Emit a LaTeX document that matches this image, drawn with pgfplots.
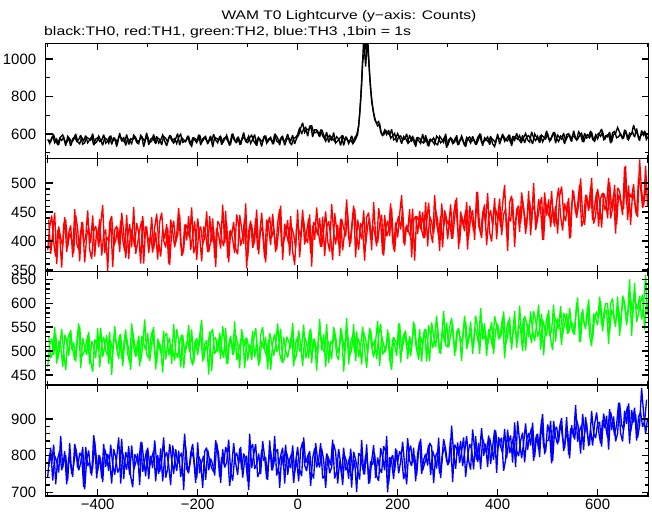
\documentclass[border=0pt]{standalone}
\usepackage{fontspec}
\setmainfont{Liberation Sans}
\usepackage{pgfplots}
\usepackage{pgfplotstable}
\pgfplotsset{compat=1.18}
\definecolor{pred}{RGB}{255,0,0}
\definecolor{pgreen}{RGB}{0,255,0}
\definecolor{pblue}{RGB}{0,0,255}
% bins at -500,-496,...
\pgfplotstableread{
t k r g b
-500 572 384 467 742
-496 550 425 514 806
-492 579 444 526 778
-488 595 397 492 830
-484 562 373 536 722
-480 545 419 482 792
-476 577 409 506 814
-472 566 354 546 760
-468 583 429 498 788
-464 537 437 460 802
-460 588 390 524 732
-456 575 414 539 834
-452 556 402 503 750
-448 571 379 518 776
-444 601 445 478 820
-440 559 421 528 766
-436 548 365 552 808
-432 582 433 488 798
-428 564 396 496 714
-424 592 407 510 824
-420 553 453 533 772
-416 569 385 472 782
-412 586 369 521 746
-408 541 417 508 856
-404 574 426 485 812
-400 580 403 548 758
-396 560 438 466 800
-392 567 375 515 738
-388 597 411 530 832
-384 551 420 500 770
-380 563 348 491 804
-376 589 432 540 786
-372 544 443 450 724
-368 578 391 527 818
-364 570 401 520 796
-360 555 423 504 754
-356 605 381 534 768
-352 561 449 484 846
-348 584 415 512 736
-344 539 371 545 810
-340 576 408 494 792
-336 565 429 476 748
-332 549 389 558 828
-328 594 459 509 762
-324 581 378 488 780
-320 558 397 522 806
-316 568 419 468 720
-312 590 435 532 838
-308 532 361 516 790
-304 573 425 502 744
-300 585 407 538 822
-296 554 395 479 774
-292 562 441 514 794
-288 598 386 550 814
-284 547 415 461 730
-280 579 368 526 802
-276 572 433 506 756
-272 542 449 492 784
-268 587 401 542 850
-264 577 389 482 740
-260 557 423 515 764
-256 593 359 528 832
-252 566 416 473 788
-248 552 435 556 750
-244 575 397 497 818
-240 603 411 486 778
-236 540 446 518 798
-232 582 374 534 808
-228 569 385 464 706
-224 559 429 510 826
-220 591 419 524 760
-216 550 405 498 772
-212 535 458 545 812
-208 580 379 474 792
-204 574 392 521 726
-200 564 439 492 836
-196 596 409 532 752
-192 556 365 565 782
-188 571 425 482 800
-184 586 413 510 734
-180 546 381 502 816
-176 578 443 541 786
-172 561 398 458 766
-168 599 421 522 756
-164 568 355 529 842
-160 553 434 498 810
-156 588 428 538 742
-152 543 403 505 796
-148 576 391 486 776
-144 583 452 548 824
-140 565 371 472 804
-136 538 417 524 718
-132 592 410 514 770
-128 573 433 493 834
-124 557 387 534 780
-120 585 377 517 748
-116 549 445 464 820
-112 570 422 546 762
-108 608 395 506 806
-104 560 465 528 790
-100 554 370 480 730
-96 581 417 514 860
-92 594 429 481 766
-88 563 395 524 802
-84 547 439 548 832
-80 577 385 499 742
-76 571 409 474 756
-72 534 449 521 816
-68 584 401 505 786
-64 589 363 530 796
-60 558 427 462 734
-56 574 442 538 842
-52 566 406 518 760
-48 551 421 490 776
-44 595 381 512 810
-40 579 431 558 818
-36 541 455 495 712
-32 587 391 478 800
-28 562 399 529 770
-24 569 413 502 830
-20 600 436 486 748
-16 555 375 510 790
-12 544 424 535 806
-8 576 411 468 726
-4 582 388 517 784
0 597 454 529 824
4 634 372 499 762
8 600 421 509 744
12 628 436 555 850
16 636 406 485 780
20 588 397 503 798
24 642 446 543 812
28 645 356 475 752
32 606 433 526 738
36 607 426 514 834
40 617 410 491 788
44 584 440 567 768
48 624 390 501 820
52 597 418 535 788
56 562 451 467 712
60 582 400 523 798
64 593 382 507 752
68 563 464 483 768
72 608 415 550 832
76 552 394 531 810
80 564 428 496 724
84 577 374 511 786
88 588 438 544 748
92 539 422 457 822
96 581 408 519 760
100 568 449 537 771
104 560 390 490 797
108 591 425 502 713
112 554 461 556 811
116 573 372 479 789
120 598 437 527 761
124 700 417 517 735
128 865 403 472 843
132 1110 453 539 749
136 960 393 525 803
140 1120 426 495 775
144 910 439 549 725
148 775 384 508 785
152 712 467 487 829
156 668 408 521 739
160 643 397 563 795
164 654 429 469 765
168 596 445 532 753
172 595 375 513 826
176 619 421 497 812
180 607 435 545 700
184 594 409 484 796
188 625 456 461 784
192 569 385 529 736
196 575 432 520 820
200 603 406 510 782
204 580 446 558 812
208 549 479 498 800
212 587 396 520 736
216 577 424 543 758
220 554 416 483 848
224 594 455 531 786
228 563 372 506 772
232 577 436 562 822
236 532 443 516 730
240 581 412 494 806
244 577 452 546 838
248 560 419 478 750
252 552 405 536 789
256 593 467 546 805
260 539 391 520 773
264 570 443 479 835
268 565 433 560 825
272 580 412 532 725
276 550 453 508 799
280 543 436 550 811
284 588 383 496 751
288 573 465 527 783
292 555 425 584 845
296 602 447 512 819
300 537 403 509 774
304 568 437 550 786
308 576 404 569 882
312 554 447 522 806
316 583 471 498 764
320 547 422 544 836
324 563 397 534 780
328 590 444 479 812
332 558 428 554 850
336 532 453 562 742
340 575 385 515 796
344 585 461 539 832
348 561 441 527 818
352 571 417 508 763
356 544 439 574 853
360 581 485 550 783
364 597 422 494 813
368 554 405 562 875
372 559 456 525 799
376 569 429 536 833
380 584 483 512 769
384 543 415 536 849
388 576 399 561 819
392 567 447 494 789
396 552 456 543 869
400 601 438 557 817
404 546 473 527 837
408 579 410 537 849
412 589 446 583 759
416 569 455 513 789
420 563 383 531 871
424 596 467 571 807
428 536 478 503 827
432 587 426 554 853
436 582 436 542 769
440 572 458 519 895
444 592 416 595 839
448 558 484 529 793
452 581 456 569 834
456 603 412 501 888
460 569 449 557 816
464 557 470 541 856
468 612 430 517 876
472 579 500 584 786
476 565 419 565 846
480 588 438 530 860
484 552 460 545 796
488 594 476 578 898
492 584 402 491 826
496 574 466 553 810
500 602 452 578 885
504 563 440 531 861
508 586 486 543 779
512 610 431 597 895
516 551 460 520 851
520 594 413 568 831
524 581 478 558 877
528 572 494 513 903
532 605 446 580 813
536 565 434 566 845
540 587 468 536 867
544 596 404 590 793
548 559 461 549 883
552 618 486 536 850
556 579 448 570 938
560 572 462 612 838
564 593 497 518 868
568 604 425 581 884
572 557 436 562 816
576 588 480 546 906
580 597 470 594 854
584 580 456 533 830
588 611 509 510 922
592 564 430 578 862
596 595 443 569 848
600 574 490 554 888
604 605 467 614 891
608 627 423 554 825
612 572 483 576 915
616 590 471 599 881
620 585 439 599 849
624 611 501 538 927
628 556 456 587 871
632 598 479 574 907
636 603 413 551 839
640 635 492 614 861
644 609 486 532 945
648 587 461 581 885
652 579 456 612 871
656 621 530 582 909
660 570 436 573 935
664 605 482 650 833
668 598 475 532 925
672 648 498 609 891
676 611 452 602 913
680 600 442 586 849
684 565 541 616 883
688 619 487 566 985
692 593 460 594 917
696 607 530 660 859
700 575 460 576 903
}\binsA
% bins at -498,-494,...
\pgfplotstableread{
t k r g b
-498 568 437 532 770
-494 560 378 485 822
-490 591 413 497 732
-486 554 449 551 800
-482 573 360 474 784
-478 542 425 522 754
-474 585 405 512 854
-470 596 391 467 766
-466 564 441 534 812
-462 556 381 520 722
-458 579 414 490 796
-454 536 427 544 774
-450 574 372 503 742
-446 587 455 482 832
-442 561 396 516 806
-438 571 385 558 760
-434 594 417 464 780
-430 546 433 527 824
-426 553 363 508 708
-422 583 409 492 790
-418 576 423 540 814
-414 567 397 479 752
-410 602 444 456 768
-406 549 373 524 840
-402 558 420 515 738
-398 589 389 500 802
-394 569 429 548 788
-390 540 462 488 728
-386 580 379 510 818
-382 572 407 533 798
-378 551 399 473 758
-374 592 438 521 830
-370 562 355 496 776
-366 577 419 552 748
-362 533 426 506 794
-358 586 395 484 850
-354 582 435 536 724
-350 565 402 468 808
-346 557 383 518 782
-342 598 445 528 762
-338 544 369 502 826
-334 575 421 461 744
-330 570 411 542 714
-326 585 390 514 804
-322 555 431 490 792
-318 548 414 532 772
-314 593 361 478 836
-310 578 443 509 756
-306 560 403 566 786
-302 607 425 494 816
-298 542 379 485 736
-294 573 413 526 800
-290 581 380 545 766
-286 559 423 498 842
-282 588 447 474 780
-278 552 398 520 750
-274 568 373 510 820
-270 595 420 455 730
-266 563 404 530 796
-262 537 429 538 810
-258 580 361 491 774
-254 590 437 515 720
-250 566 417 503 828
-246 576 389 480 790
-242 549 411 546 758
-238 583 457 522 814
-234 599 394 466 742
-230 556 377 534 784
-226 561 428 497 860
-222 571 401 508 764
-218 586 443 554 752
-214 545 385 486 806
-210 578 409 470 832
-206 569 434 518 770
-202 554 367 527 738
-198 596 416 506 798
-194 541 425 541 786
-190 574 395 478 712
-186 584 405 514 812
-182 564 451 523 822
-178 558 381 451 760
-174 591 399 535 792
-170 531 439 546 776
-166 582 371 494 746
-162 577 422 504 834
-158 567 410 526 802
-154 587 387 484 726
-150 553 463 552 818
-146 572 397 518 768
-142 594 431 474 782
-138 560 363 511 844
-134 548 419 532 754
-130 603 403 492 732
-126 570 379 562 796
-122 556 446 481 808
-118 579 427 500 778
-114 543 392 522 824
-110 585 407 538 740
-106 575 440 464 788
-102 565 353 528 800
-98 589 417 508 706
-94 550 435 496 818
-90 573 388 542 832
-86 597 400 487 764
-82 538 454 516 776
-78 581 377 469 806
-74 568 425 534 750
-70 559 415 550 840
-66 592 370 502 796
-62 552 437 490 736
-58 574 423 524 786
-54 583 393 460 814
-50 546 447 517 760
-46 601 406 536 854
-42 562 385 498 746
-38 555 419 512 772
-34 576 461 547 800
-30 587 367 475 822
-26 540 430 486 724
-22 571 411 530 808
-18 580 395 520 782
-14 563 443 506 766
-10 594 382 559 828
-6 547 359 480 754
-2 578 427 493 792
2 594 421 543 730
6 632 406 513 816
10 660 454 469 838
14 608 394 529 774
18 627 416 517 758
22 621 439 485 804
26 644 379 547 718
30 585 427 502 794
34 622 402 525 820
38 622 458 459 768
42 596 412 538 788
46 618 390 532 834
50 591 442 507 738
54 573 374 495 746
58 610 424 556 806
62 555 434 475 792
66 587 408 521 774
70 577 367 514 844
74 561 448 537 738
78 586 420 491 756
82 574 396 481 818
86 539 438 549 778
90 593 384 526 720
94 567 415 499 800
98 581 472 569 784
102 549 405 472 737
106 572 396 519 819
110 550 437 531 759
114 579 456 497 789
118 595 409 541 701
122 640 385 487 807
126 780 431 511 799
130 990 421 551 765
134 1040 366 503 749
138 1100 441 465 831
142 1000 449 529 723
146 840 402 544 785
150 742 426 508 775
154 678 414 523 805
158 658 391 483 745
162 667 457 533 731
166 614 433 557 821
170 594 377 493 796
174 621 445 501 760
178 597 408 515 854
182 621 419 538 724
186 578 465 477 786
190 590 400 526 802
194 604 381 513 758
198 556 429 490 816
202 586 443 558 752
206 590 420 476 784
210 568 455 525 838
214 573 392 540 774
218 601 428 510 722
222 554 416 522 808
226 565 407 489 828
230 590 456 532 780
234 544 366 556 800
238 577 443 507 746
242 565 436 482 814
246 550 420 529 846
250 600 450 513 760
254 556 405 546 779
258 579 433 478 799
262 534 466 554 829
266 571 415 534 747
270 560 397 506 813
274 544 479 528 795
278 589 430 574 765
282 576 409 511 849
286 553 443 494 739
290 563 389 545 805
294 585 453 518 825
298 527 437 560 785
302 568 427 508 782
306 580 463 532 848
310 549 404 557 728
314 557 439 490 830
318 593 475 539 820
322 542 386 548 800
326 574 451 518 840
330 567 431 528 772
334 537 417 574 810
338 582 467 504 854
342 572 407 522 786
346 552 440 562 762
350 588 453 494 872
354 561 402 549 817
358 547 485 537 789
362 573 426 514 835
366 601 415 590 763
370 538 447 524 847
374 580 463 558 827
378 567 393 490 807
382 557 439 546 855
386 589 453 530 777
390 548 427 506 823
394 533 474 573 871
398 578 403 554 753
402 579 455 524 851
406 569 424 539 825
410 601 464 572 807
414 561 497 485 873
418 576 414 547 793
422 591 442 565 837
426 551 434 518 855
430 583 473 530 781
434 566 390 584 891
438 604 454 507 813
442 573 461 555 799
446 558 430 545 841
450 593 470 500 863
454 552 443 573 782
458 585 424 559 844
462 592 486 529 862
466 574 410 583 828
470 547 462 542 890
474 601 452 521 796
478 582 431 555 858
482 566 472 597 816
486 594 455 503 870
490 558 402 566 914
494 579 484 547 804
498 617 444 531 840
502 573 472 586 843
506 567 424 525 895
510 594 458 502 785
514 607 425 570 869
518 576 468 561 879
522 560 492 546 837
526 590 443 594 891
530 584 418 534 847
534 547 465 556 821
538 597 449 579 905
542 602 474 537 803
546 571 406 561 873
550 591 488 557 872
554 583 468 534 844
558 568 440 600 898
562 612 462 576 876
566 596 508 520 806
570 558 445 588 914
574 604 428 551 862
578 579 479 562 890
582 586 452 608 826
586 617 494 540 872
590 572 436 524 828
594 561 460 572 886
598 593 485 581 918
602 603 425 570 867
606 588 474 605 833
610 611 483 542 897
614 569 453 578 875
618 593 463 587 909
622 599 509 515 817
626 551 439 599 919
630 607 457 610 893
634 614 497 558 855
638 580 429 568 885
642 586 480 590 945
646 601 468 548 861
650 573 445 616 839
654 623 528 598 923
658 601 462 554 887
662 571 496 591 943
666 596 428 612 865
670 610 484 572 897
674 583 468 642 931
678 630 444 561 841
682 576 511 580 907
686 589 492 602 919
690 603 457 618 879
694 614 472 544 893
698 565 505 608 953
}\binsB
\pgfplotsset{
  panel/.style={
    scale only axis,
    width=602.9bp,
    xmin=-504, xmax=702,
    xtick={-400,-200,0,200,400,600},
    minor xtick={-500,-300,-100,100,300,500,700},
    xticklabels={},
    tick align=inside,
    major tick length=7bp,
    minor tick length=4bp,
    every tick/.style={black, line width=1.4bp},
    axis line style={black, line width=1.2bp},
    tick label style={font=\fontsize{15}{15}\selectfont},
    yticklabel style={xshift=-6bp},
    /pgf/number format/assume math mode=true,
    /pgf/number format/1000 sep={},
    anchor=north west,
    clip=true,
    axis on top,
  },
  curve/.style={line width=1.35bp, mark=none, line join=miter, miter limit=3},
}
\begin{document}
\begin{tikzpicture}
\path[use as bounding box] (0bp,0bp) rectangle (652bp,515bp);
\node[anchor=base, font=\fontsize{12.5}{14}\selectfont] at (349bp,495bp) {\scalebox{1.25}[1]{WAM T0 Lightcurve (y−axis: Counts)}};
\node[anchor=base west, font=\fontsize{12.5}{14}\selectfont, inner sep=0pt] at (44bp,479.5bp) {\scalebox{1.27}[1]{black:TH0, red:TH1, green:TH2, blue:TH3 ,1bin = 1s}};
% panel 1
\begin{axis}[panel, at={(45.7bp,471.7bp)}, height=115.5bp,
  ymin=468, ymax=1084, ytick={600,800,1000}, minor ytick={500,700,900}]
\addplot[curve, black] table[x=t, y=k] {\binsA};
\addplot[curve, black] table[x=t, y=k] {\binsB};
\end{axis}
% panel 2
\begin{axis}[panel, at={(45.7bp,356.2bp)}, height=112.9bp,
  ymin=347, ymax=542, ytick={350,400,450,500}, minor y tick num=4]
\addplot[curve, pred] table[x=t, y=r] {\binsA};
\addplot[curve, pred] table[x=t, y=r] {\binsB};
\end{axis}
% panel 3
\begin{axis}[panel, at={(45.7bp,243.3bp)}, height=113.3bp,
  ymin=429, ymax=666, ytick={450,500,550,600,650}, minor y tick num=4]
\addplot[curve, pgreen] table[x=t, y=g] {\binsA};
\addplot[curve, pgreen] table[x=t, y=g] {\binsB};
\end{axis}
% panel 4
\begin{axis}[panel, at={(45.7bp,130bp)}, height=111bp,
  ymin=690, ymax=993, ytick={700,800,900}, minor y tick num=4,
  xticklabels={−400,−200,0,200,400,600}]
\addplot[curve, pblue] table[x=t, y=b] {\binsA};
\addplot[curve, pblue] table[x=t, y=b] {\binsB};
\end{axis}
\end{tikzpicture}
\end{document}
